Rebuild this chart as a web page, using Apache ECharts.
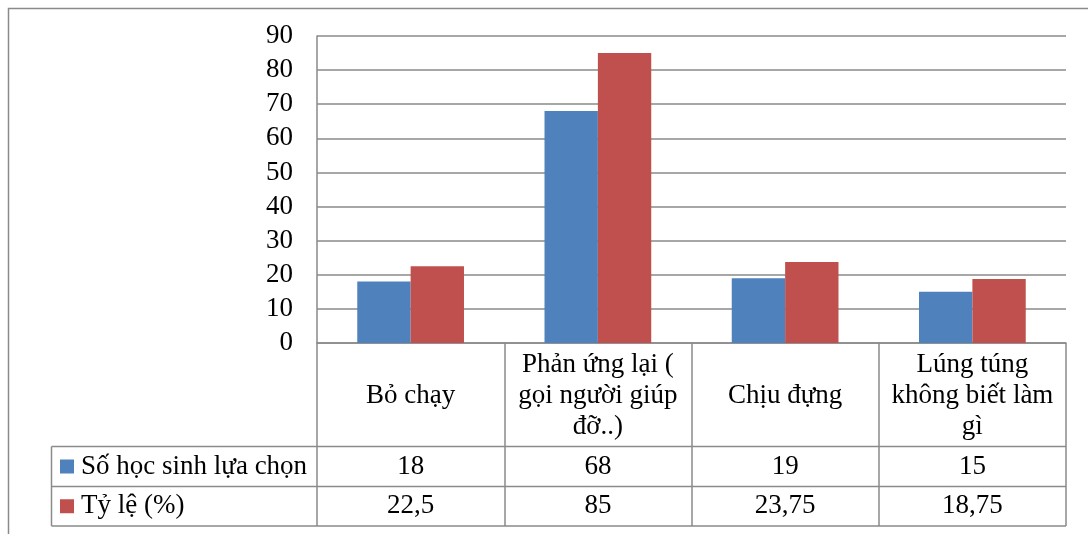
<!DOCTYPE html>
<html>
<head>
<meta charset="utf-8">
<script src="https://cdn.jsdelivr.net/npm/echarts@6/dist/echarts.min.js"></script>
<style>
  html, body { margin: 0; padding: 0; background: #fff; }
  #chart { width: 1088px; height: 534px; }
</style>
</head>
<body>
<div id="chart"></div>
<script>
// Categories (header row of the data table) and the two series
const categories = [
  'Bỏ chạy',
  'Phản ứng lại (\ngọi người giúp\nđỡ..)',
  'Chịu đựng',
  'Lúng túng\nkhông biết làm\ngì'
];
const seriesNames = ['Số học sinh lựa chọn', 'Tỷ lệ (%)'];
const studentCounts = [18, 68, 19, 15];
const percentages = [22.5, 85, 23.75, 18.75];
const yMin = 0, yMax = 90, yStep = 10;

const colors = ['#4F81BD', '#C0504D'];
const lineColor = '#8a8a8a';
const FONT = 'Liberation Serif';
const FONT_SIZE = 27;

// Layout of plot area and data table
const W = 1088, H = 534;
const grid = { left: 317, right: 22, top: 36, bottom: 191 };
const plotBottom = H - grid.bottom;
const plotRight = W - grid.right;
const headerBottom = 446.5;
const row1Bottom = 486.5;
const tableBottom = 526;
const tableLeft = 51.5;

const fmt = v => String(v).replace('.', ',');

const chart = echarts.init(document.getElementById('chart'));

chart.setOption({
  animation: false,
  backgroundColor: '#fff',
  textStyle: { fontFamily: FONT },
  grid: grid,
  xAxis: {
    type: 'category',
    data: categories,
    boundaryGap: true,
    axisLine: { show: true, lineStyle: { color: lineColor, width: 1.5 } },
    axisTick: {
      show: true, interval: 0, alignWithLabel: false,
      length: tableBottom - plotBottom,
      lineStyle: { color: lineColor, width: 1.5 }
    },
    axisLabel: {
      interval: 0,
      margin: 53,
      verticalAlign: 'middle',
      lineHeight: 31,
      color: '#000',
      fontFamily: FONT,
      fontSize: FONT_SIZE
    },
    splitLine: { show: false }
  },
  yAxis: {
    type: 'value',
    min: yMin, max: yMax, interval: yStep,
    axisLine: { show: true, lineStyle: { color: lineColor, width: 1.5 } },
    axisTick: { show: false },
    axisLabel: { margin: 24, color: '#000', fontFamily: FONT, fontSize: FONT_SIZE },
    splitLine: { show: true, lineStyle: { color: lineColor, width: 1.5 } }
  },
  series: [
    {
      name: seriesNames[0], type: 'bar', data: studentCounts,
      barGap: '0%', barCategoryGap: '43%',
      itemStyle: { color: colors[0] }
    },
    {
      name: seriesNames[1], type: 'bar', data: percentages,
      barGap: '0%', barCategoryGap: '43%',
      itemStyle: { color: colors[1] }
    }
  ]
});

// Data table under the axis: grid lines, legend keys and the values
const rows = [studentCounts, percentages];
const rowTops = [headerBottom, row1Bottom];
const rowBottoms = [row1Bottom, tableBottom];
const graphics = [];
const lineStyle = { stroke: lineColor, lineWidth: 1.5 };

// outer chart border
graphics.push({
  type: 'rect', silent: true,
  shape: { x: 8.5, y: 8.5, width: W + 20, height: H + 20 },
  style: { fill: 'none', stroke: lineColor, lineWidth: 1.5 }
});
[headerBottom, row1Bottom, tableBottom].forEach(y => {
  graphics.push({ type: 'line', silent: true,
    shape: { x1: tableLeft, y1: y, x2: plotRight, y2: y }, style: lineStyle });
});
graphics.push({ type: 'line', silent: true,
  shape: { x1: tableLeft, y1: headerBottom, x2: tableLeft, y2: tableBottom }, style: lineStyle });

rows.forEach((vals, r) => {
  const cy = (rowTops[r] + rowBottoms[r]) / 2;
  graphics.push({
    type: 'rect', silent: true,
    shape: { x: 60, y: cy - 7, width: 14, height: 14 },
    style: { fill: colors[r] }
  });
  graphics.push({
    type: 'text', silent: true,
    style: { text: seriesNames[r], x: 81, y: cy, align: 'left', verticalAlign: 'middle',
      fontFamily: FONT, fontSize: FONT_SIZE, fill: '#000' }
  });
  vals.forEach((v, i) => {
    const cx = chart.convertToPixel({ xAxisIndex: 0 }, i);
    graphics.push({
      type: 'text', silent: true,
      style: { text: fmt(v), x: cx, y: cy, align: 'center', verticalAlign: 'middle',
        fontFamily: FONT, fontSize: FONT_SIZE, fill: '#000' }
    });
  });
});

chart.setOption({ graphic: graphics });
</script>
</body>
</html>
